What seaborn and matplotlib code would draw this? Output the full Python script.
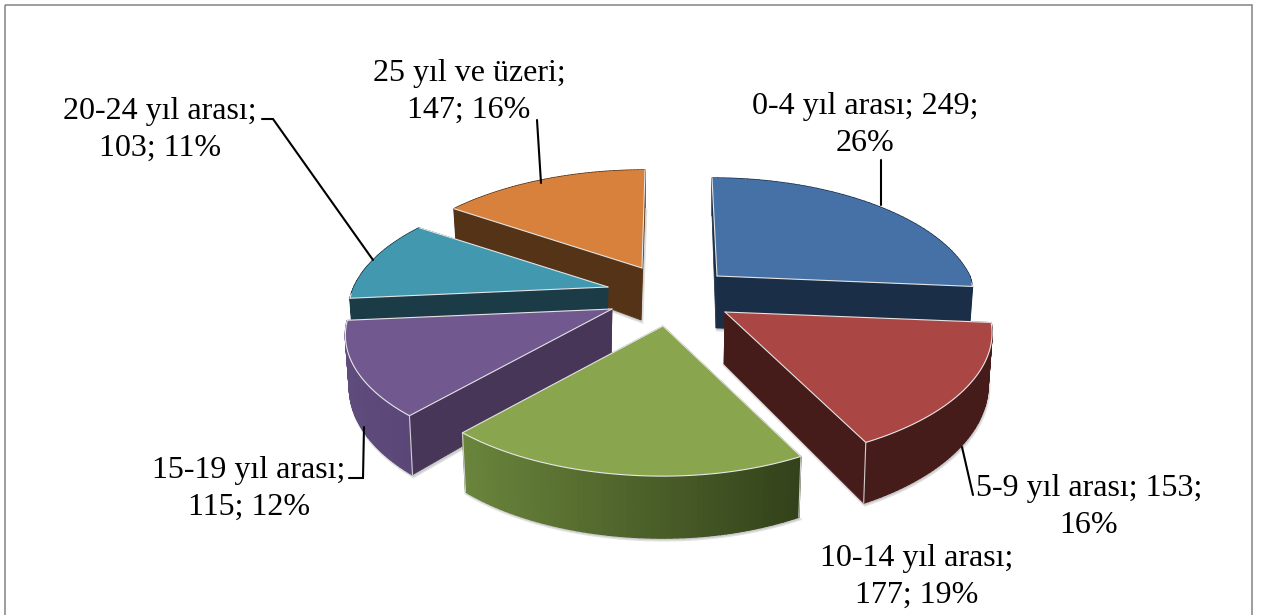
import numpy as np
import matplotlib
matplotlib.use("Agg")
import matplotlib.pyplot as plt
import matplotlib.colors as mc
from matplotlib.patches import Polygon, Rectangle
import seaborn as sns

categories = ["0-4 yıl arası", "5-9 yıl arası", "10-14 yıl arası", "15-19 yıl arası", "20-24 yıl arası", "25 yıl ve üzeri"]
counts = [249, 153, 177, 115, 103, 147]
percents = [26, 16, 19, 12, 11, 16]
label_texts = ["0-4 yıl arası; 249;\n26%", "5-9 yıl arası; 153;\n16%", "10-14 yıl arası;\n177; 19%",
               "15-19 yıl arası;\n115; 12%", "20-24 yıl arası;\n103; 11%", "25 yıl ve üzeri;\n147; 16%"]
top_colors = ["#4571A7", "#AA4643", "#89A54E", "#71588F", "#4198AF", "#D7813C"]
face_colors = ["#1B2E47", "#461C1A", "#2F3F18", "#483659", "#1B3C47", "#553316"]
wall_left = ["#1B2E47", "#461C1A", "#6A853C", "#5F4B7C", "#1B3C47", "#553316"]
wall_right = ["#1B2E47", "#461C1A", "#33421A", "#5A4778", "#1B3C47", "#553316"]
apex = [(717, 276), (725, 312), (663, 326), (612, 309), (608, 287), (642, 268)]
radius_scale = [0.965, 1.005, 0.985, 0.995, 0.97, 0.975]
lean = [-5, 0, 0, 0, 0, 3]
label_pos = [(865, 151), (1089, 533), (917, 603), (249, 515), (160, 156), (469, 118)]
leaders = [[(881, 205), (881, 160)], [(962, 447), (973, 495)], None,
           [(364, 427), (363, 478), (349, 478)], [(373, 260), (273, 119), (262, 119)], [(541, 183), (537, 120)]]
draw_order = [5, 4, 0, 3, 1, 2]

sns.set_theme(style="white")
plt.rcParams["font.family"] = ["Liberation Serif", "DejaVu Serif"]
fig = plt.figure(figsize=(12.61, 6.15), dpi=100, facecolor="white")
ax = fig.add_axes([0, 0, 1, 1])
ax.set_xlim(0, 1261)
ax.set_ylim(615, 0)
ax.axis("off")
ax.add_patch(Rectangle((5, 5), 1247, 625, fill=False, ec="#8C8C8C", lw=1.2))

R, S, K = 262, 118.6, 0.21

def project(theta, scale, tilt):
    X, Y = np.sin(theta), np.cos(theta)
    w = 1 + K * Y
    sx = scale * R * X / w + 12 * np.minimum(Y, 0) * np.maximum(X, 0) + tilt * np.maximum(Y, 0)
    sy = -S * Y / w
    return sx, sy, 50 - 12 * Y

fractions = np.array(counts) / sum(counts)
edges = np.concatenate([[0], np.cumsum(fractions)]) * 2 * np.pi
shrink = 0.985

for i in draw_order:
    ax0, ay0 = apex[i]
    th = np.linspace(edges[i], edges[i + 1], 60)
    sx, sy, dep = project(th, radius_scale[i], lean[i])
    rim = list(zip(ax0 + sx, ay0 + sy))
    low = list(zip(ax0 + sx * shrink, ay0 + sy + dep))
    d0 = 52
    low_apex = (ax0 - 1, ay0 + d0)
    # soft shadow below the lower outline
    ax.add_patch(Polygon([(x + 1, y + 2) for x, y in [low_apex] + low], closed=True, fc="#999999", ec="#999999",
                         lw=2.0, alpha=0.3, zorder=1))
    # radial faces
    for idx in (0, -1):
        quad = [(ax0, ay0), rim[idx], low[idx], low_apex]
        ax.add_patch(Polygon(quad, closed=True, fc=face_colors[i], ec=face_colors[i], lw=0.5, zorder=1))
    # outer wall as gradient strips
    c0, c1 = np.array(mc.to_rgb(wall_left[i])), np.array(mc.to_rgb(wall_right[i]))
    xs = ax0 + sx
    for j in range(len(rim) - 1):
        t = (xs[j] - xs.min()) / max(np.ptp(xs), 1)
        col = c0 * (1 - t) + c1 * t
        q = [rim[j], rim[j + 1], low[j + 1], low[j]]
        ax.add_patch(Polygon(q, closed=True, fc=col, ec=col, lw=1.0, zorder=1))
    # top face
    ax.add_patch(Polygon([(ax0, ay0)] + rim, closed=True, fc=top_colors[i], ec="none", zorder=1))
    # pale highlight on the front edges and corners
    Y = np.cos(th)
    front = [p for p, y in zip(rim, Y) if y < -0.05]
    if front:
        ax.plot(*zip(*front), color="#E8E8E8", lw=0.8, zorder=1)
    for idx in (0, -1):
        ax.plot([ax0, rim[idx][0]], [ay0, rim[idx][1]], color="#E4E4E4", lw=0.8, zorder=1)
        if Y[idx] < -0.3:
            ax.plot([rim[idx][0], low[idx][0]], [rim[idx][1], low[idx][1]], color="#CFCFCF", lw=0.8, zorder=1)

for pts in leaders:
    if pts:
        ax.plot(*zip(*pts), color="black", lw=1.5, zorder=3, solid_joinstyle="miter")

for (x, y), s in zip(label_pos, label_texts):
    ax.text(x, y, s, ha="center", va="baseline", fontsize=23, color="black", linespacing=1.37, zorder=4)

fig.savefig("out.png", dpi=100, facecolor="white")
